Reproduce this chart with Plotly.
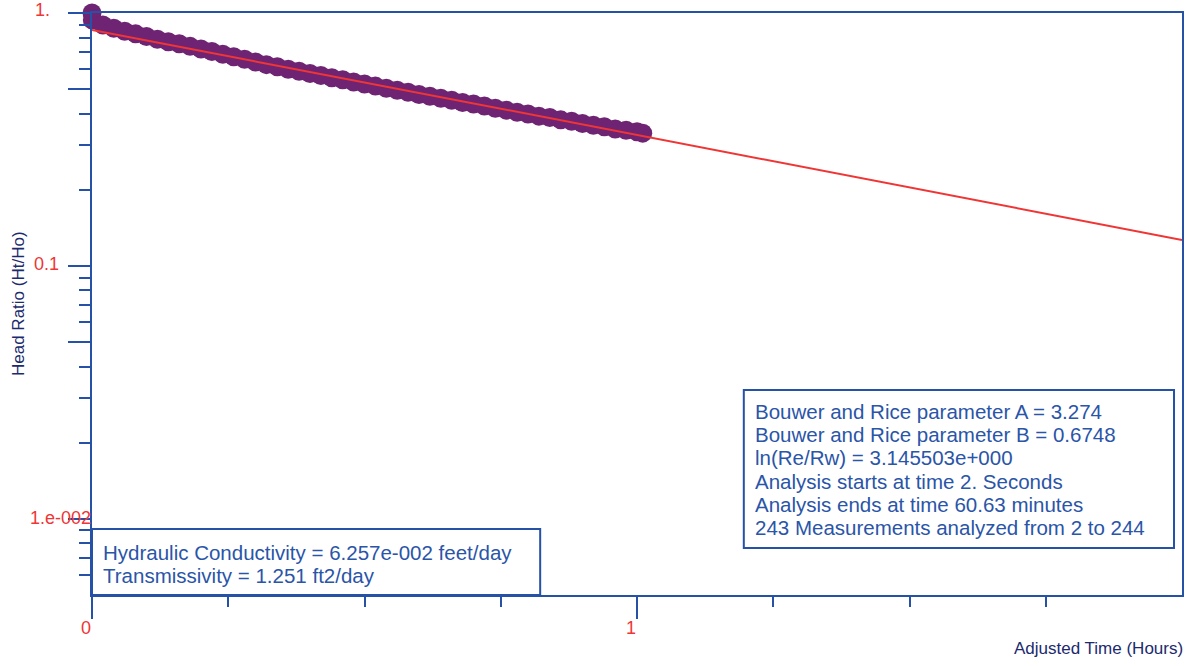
import plotly.graph_objects as go

# ---- data ----
time_hours = [0.0, 0.0006, 0.02, 0.04, 0.06, 0.08, 0.10, 0.12, 0.14, 0.16, 0.18, 0.20,
              0.22, 0.24, 0.26, 0.28, 0.30, 0.32, 0.34, 0.36, 0.38, 0.40, 0.42, 0.44,
              0.46, 0.48, 0.50, 0.52, 0.54, 0.56, 0.58, 0.60, 0.62, 0.64, 0.66, 0.68,
              0.70, 0.72, 0.74, 0.76, 0.78, 0.80, 0.82, 0.84, 0.86, 0.88, 0.90, 0.92,
              0.94, 0.96, 0.98, 1.00, 1.0105]
head_ratio = [1.0, 0.938, 0.896, 0.871, 0.847, 0.827, 0.807, 0.788, 0.770, 0.756, 0.738, 0.721,
              0.704, 0.687, 0.671, 0.656, 0.640, 0.625, 0.613, 0.599, 0.588, 0.577, 0.566, 0.555,
              0.545, 0.534, 0.524, 0.514, 0.504, 0.495, 0.486, 0.476, 0.469, 0.460, 0.452, 0.443,
              0.437, 0.429, 0.420, 0.413, 0.405, 0.399, 0.391, 0.386, 0.378, 0.373, 0.366, 0.360,
              0.355, 0.348, 0.344, 0.339, 0.335]
fit_time = [0.0, 2.0]
fit_ratio = [0.857, 0.1267]

y_major = [1, 0.5, 0.1, 0.05, 0.01]
y_minor = [0.9, 0.8, 0.7, 0.6, 0.4, 0.3, 0.2,
           0.09, 0.08, 0.07, 0.06, 0.04, 0.03, 0.02,
           0.009, 0.008, 0.007, 0.006]
y_labels = ["1.", "0.1", "1.e-002"]
y_label_vals = [0, -1, -2]
x_major = [0, 1]
x_minor = [0.25, 0.5, 0.75, 1.25, 1.5, 1.75]
x_labels = ["0", "1"]

box_left_lines = ["Hydraulic Conductivity = 6.257e-002 feet/day",
                  "Transmissivity = 1.251 ft2/day"]
box_right_lines = ["Bouwer and Rice parameter A = 3.274",
                   "Bouwer and Rice parameter B = 0.6748",
                   "ln(Re/Rw) = 3.145503e+000",
                   "Analysis starts at time 2. Seconds",
                   "Analysis ends at time 60.63 minutes",
                   "243 Measurements analyzed from 2 to 244"]

BLUE = "#2552a6"
TEXTBLUE = "#2a55a8"
NAVY = "#1c2a6e"
RED = "#f03535"
PURPLE = "#6e2473"
FONT = "Liberation Sans, Arial, sans-serif"

# plot-area geometry in pixels (for placing text boxes)
L, R, T, B = 92, 1184, 13, 595
PW, PH = R - L, B - T


def px(xp):
    return (xp - L) / PW


def py(yp):
    return (B - yp) / PH


fig = go.Figure()
fig.add_trace(go.Scatter(x=time_hours, y=head_ratio, mode="markers",
                         marker=dict(size=19, color=PURPLE, line=dict(width=0)),
                         cliponaxis=False, showlegend=False))
fig.add_trace(go.Scatter(x=fit_time, y=fit_ratio, mode="lines",
                         line=dict(color=RED, width=2), showlegend=False))

fig.update_layout(
    width=1191, height=666,
    margin=dict(l=L, r=1191 - R, t=T, b=666 - B),
    paper_bgcolor="white", plot_bgcolor="white",
    font=dict(family=FONT),
    xaxis=dict(range=[0, 2], showgrid=False, zeroline=False,
               showline=True, linecolor=BLUE, linewidth=2, mirror=True,
               tickmode="array", tickvals=x_major, ticks="outside", ticklen=22,
               tickwidth=2, tickcolor=BLUE, showticklabels=False,
               minor=dict(tickmode="array", tickvals=x_minor, ticks="outside",
                          ticklen=10, tickwidth=2, tickcolor=BLUE)),
    yaxis=dict(type="log", range=[-2.301, 0], showgrid=False, zeroline=False,
               showline=True, linecolor=BLUE, linewidth=2, mirror=True,
               tickmode="array", tickvals=y_major, ticks="outside", ticklen=22,
               tickwidth=2, tickcolor=BLUE, showticklabels=False,
               minor=dict(tickmode="array", tickvals=y_minor, ticks="outside",
                          ticklen=11, tickwidth=2, tickcolor=BLUE)),
)

shapes = [
    dict(type="rect", xref="paper", yref="paper", x0=px(92), x1=px(541),
         y0=py(595), y1=py(529), line=dict(color=BLUE, width=2), fillcolor="white",
         layer="above"),
    dict(type="rect", xref="paper", yref="paper", x0=px(745), x1=px(1176),
         y0=py(548), y1=py(390), line=dict(color=BLUE, width=2), fillcolor="white",
         layer="above"),
]

anns = []
y_starts = [33, 32, 28]
y_shifts = [3, 2, 1]
for lab, v, xs, ys in zip(y_labels, y_label_vals, y_starts, y_shifts):
    anns.append(dict(text=lab, xref="paper", x=0, xanchor="left", xshift=xs - L,
                     yref="y", y=v, yanchor="middle", yshift=ys, showarrow=False,
                     font=dict(size=18, color=RED, family=FONT)))
for lab, v in zip(x_labels, x_major):
    anns.append(dict(text=lab, xref="x", x=v, xanchor="center", xshift=-6,
                     yref="paper", y=0, yanchor="middle", yshift=-33, showarrow=False,
                     font=dict(size=18, color=RED, family=FONT)))
anns.append(dict(text="Adjusted Time (Hours)", xref="paper", x=1, xanchor="right", xshift=3,
                 yref="paper", y=0, yanchor="middle", yshift=-53, showarrow=False,
                 font=dict(size=17, color=NAVY, family=FONT)))
anns.append(dict(text="Head Ratio (Ht/Ho)", xref="paper", x=0, xanchor="center", xshift=-74,
                 yref="paper", y=0.5, yanchor="middle", textangle=-90, showarrow=False,
                 font=dict(size=17, color=NAVY, family=FONT)))
for line, yc in zip(box_left_lines, [552, 575]):
    anns.append(dict(text=line, xref="paper", x=px(101), xanchor="left",
                     yref="paper", y=py(yc), yanchor="middle", showarrow=False,
                     font=dict(size=20.5, color=TEXTBLUE, family=FONT)))
for line, yc in zip(box_right_lines, [411, 434, 457, 481, 504, 527]):
    anns.append(dict(text=line, xref="paper", x=px(754), xanchor="left",
                     yref="paper", y=py(yc), yanchor="middle", showarrow=False,
                     font=dict(size=20.5, color=TEXTBLUE, family=FONT)))
fig.update_layout(annotations=anns, shapes=shapes)

fig.write_html("out.html")
